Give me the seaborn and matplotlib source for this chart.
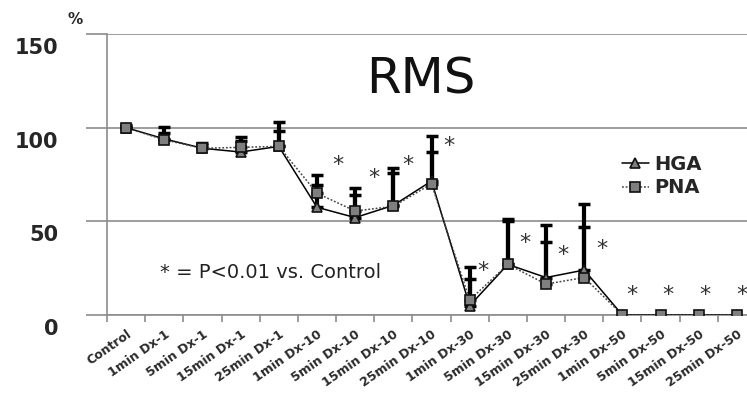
import numpy as np
import pandas as pd
import matplotlib
matplotlib.use("Agg")
import matplotlib.pyplot as plt
import matplotlib.transforms as mtransforms
from matplotlib.ticker import FixedLocator
import seaborn as sns

categories = ["Control", "1min Dx-1", "5min Dx-1", "15min Dx-1", "25min Dx-1",
              "1min Dx-10", "5min Dx-10", "15min Dx-10", "25min Dx-10",
              "1min Dx-30", "5min Dx-30", "15min Dx-30", "25min Dx-30",
              "1min Dx-50", "5min Dx-50", "15min Dx-50", "25min Dx-50"]
hga = [100, 94, 89, 87, 90, 57.5, 52, 58.5, 71.5, 5, 27, 20, 24, 0, 0, 0, 0]
pna = [100, 93.5, 89, 89.5, 90, 65, 55.5, 58, 70, 8, 27, 16.5, 20, 0, 0, 0, 0]
hga_err = [1.5, 6.5, 3, 8, 13, 17.5, 16, 20, 24, 20.5, 24, 28, 35, 0, 0, 0, 0]
pna_err = [1, 3.5, 2, 3.5, 8, 4.5, 8.5, 18, 17, 11, 23, 22.5, 27, 0, 0, 0, 0]

# significance marks (category position, height)
star_pos = [5.55, 6.49, 7.38, 8.45, 9.34, 10.44, 11.44, 12.46, 13.24, 14.19, 15.16, 16.12]
star_y = [80, 73, 80, 90, 23.5, 38.5, 32, 35, 10.7, 10.7, 10.7, 10.7]

yticks = [0, 50, 100, 150]

sns.set_theme(style="white")
plt.rcParams["font.family"] = ["DejaVu Sans"]

fig = plt.figure(figsize=(7.47, 3.98), dpi=100)
ax = fig.add_axes([107 / 747, 1 - 315 / 398, 649 / 747, 281 / 398])

x = np.arange(len(categories))
df = pd.DataFrame({
    "pos": np.concatenate([x, x]),
    "value": hga + pna,
    "series": ["HGA"] * len(x) + ["PNA"] * len(x),
})

sns.lineplot(data=df, x="pos", y="value", hue="series", style="series",
             palette={"HGA": "black", "PNA": "#444444"},
             markers={"HGA": "^", "PNA": "s"},
             dashes={"HGA": "", "PNA": (1.2, 1.2)},
             markersize=7.5, markerfacecolor="#7f7f7f", markeredgecolor="#111111",
             markeredgewidth=1.2, linewidth=1.1, legend=False, ax=ax, zorder=4)

handles = list(ax.get_lines()[:2])

for vals, errs in ((hga, hga_err), (pna, pna_err)):
    v = np.array(vals, dtype=float)
    e = np.array(errs, dtype=float)
    m = e > 0
    ax.errorbar(x[m], v[m], yerr=[np.zeros(m.sum()), e[m]], fmt="none",
                ecolor="black", elinewidth=3, capsize=4, capthick=2.5, zorder=3)

for sx, sy in zip(star_pos, star_y):
    ax.text(sx, sy, "*", ha="center", va="center", fontsize=16,
            color="#333333", family="DejaVu Sans", zorder=5)

ax.set_xlim(-0.5, len(categories) - 0.5)
ax.set_ylim(0, 150)
ax.set_xlabel("")
ax.set_ylabel("")

ax.set_yticks(yticks)
ax.set_yticklabels([str(t) for t in yticks], fontsize=15, fontweight="bold",
                   color="#262626")
ax.tick_params(axis="y", length=15, width=1.2, color="#8c8c8c", pad=20, left=True)
shift = mtransforms.ScaledTranslation(0, -12 / 100, fig.dpi_scale_trans)
for lab in ax.get_yticklabels():
    lab.set_transform(lab.get_transform() + shift)
ax.yaxis.grid(True, color="#8c8c8c", linewidth=1.2)
ax.set_axisbelow(True)

ax.set_xticks(x)
ax.set_xticklabels(categories, rotation=35, ha="right", rotation_mode="anchor",
                   fontsize=9, fontweight="bold", color="#2a2a2a")
ax.tick_params(axis="x", which="major", length=0, pad=9)
ax.xaxis.set_minor_locator(FixedLocator(np.arange(-0.5, len(categories), 1)))
ax.tick_params(axis="x", which="minor", length=5, width=1.2, color="#8c8c8c",
               bottom=True)

for side in ("top", "right"):
    ax.spines[side].set_visible(False)
for side in ("left", "bottom"):
    ax.spines[side].set_color("#8c8c8c")
    ax.spines[side].set_linewidth(1.2)

fig.text(421 / 747, 1 - 80 / 398, "RMS", ha="center", va="center",
         fontsize=36, family="DejaVu Sans", color="#111111")
fig.text(75 / 747, 1 - 20 / 398, "%", ha="center", va="center",
         fontsize=11, fontweight="bold", color="#262626")
fig.text(160 / 747, 1 - 272 / 398, "* = P<0.01 vs. Control", ha="left",
         va="center", fontsize=14, family="DejaVu Sans", color="#222222")

leg = ax.legend(handles, ["HGA", "PNA"], loc="center left",
                bbox_to_anchor=(612 / 747, 1 - 176 / 398),
                bbox_transform=fig.transFigure, frameon=False,
                handlelength=1.4, handletextpad=0.25, labelspacing=0.25,
                borderpad=0, prop={"weight": "bold", "size": 14})
for t in leg.get_texts():
    t.set_color("#262626")

fig.savefig("out.png", dpi=100)
